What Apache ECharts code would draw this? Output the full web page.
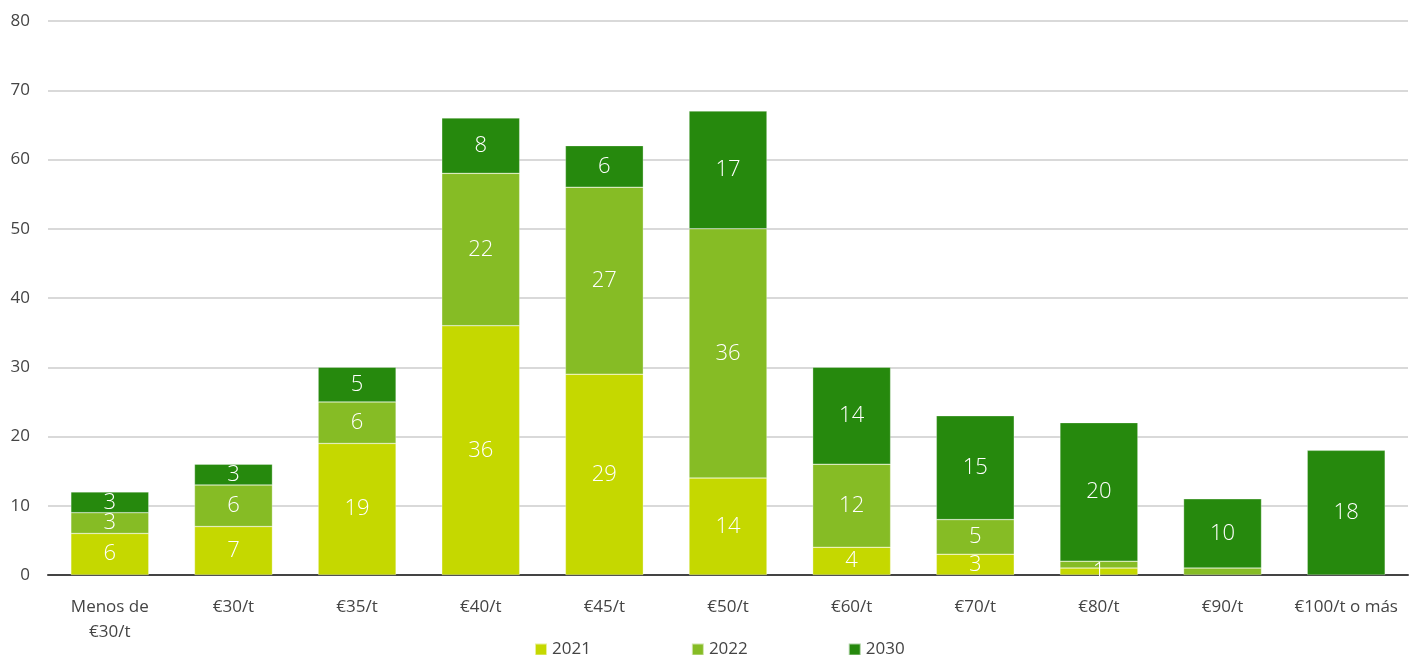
<!DOCTYPE html>
<html><head><meta charset="utf-8">
<script src="https://cdn.jsdelivr.net/npm/echarts@6/dist/echarts.min.js"></script>
<style>html,body{margin:0;padding:0;background:#fff}#c{width:1418px;height:655px}</style>
</head><body><div id="c"></div>
<script>
const categories = ['Menos de\n€30/t','€30/t','€35/t','€40/t','€45/t','€50/t','€60/t','€70/t','€80/t','€90/t','€100/t o más'];
const s2021 = [6,7,19,36,29,14,4,3,1,0,0];
const s2022 = [3,6,6,22,27,36,12,5,1,1,0];
const s2030 = [3,3,5,8,6,17,14,15,20,10,18];
const hideLabel2022 = [8,9];
const yTicks = {min:0,max:80,interval:10};

function mk(name, vals, color, hide){
  return {
    name, type:'bar', stack:'t', barWidth:'63%',
    itemStyle:{color, borderColor:'rgba(255,255,255,0.6)', borderWidth:0.5},
    label:{show:true, position:'inside', color:'#fff', fontSize:22, fontWeight:300, fontFamily:'Open Sans',
      formatter:p=> (p.value>0 && !(hide||[]).includes(p.dataIndex)) ? p.value : ''},
    data: vals.map(v => v === 0 ? '-' : v)
  };
}
const chart = echarts.init(document.getElementById('c'));
chart.setOption({
  animation:false,
  textStyle:{fontFamily:'Open Sans'},
  grid:{left:48,right:10,top:21,bottom:80,containLabel:false},
  legend:{top:636,left:529,itemGap:100,itemWidth:12,itemHeight:12,icon:'rect',
    textStyle:{fontSize:17,color:'#444',fontFamily:'Open Sans'},data:['2021','2022','2030']},
  xAxis:{type:'category',data:categories,
    axisLine:{lineStyle:{color:'#444',width:2}},axisTick:{show:false},
    axisLabel:{fontSize:17,color:'#444',margin:20,lineHeight:25,interval:0}},
  yAxis:{type:'value',min:yTicks.min,max:yTicks.max,interval:yTicks.interval,
    axisLine:{show:false},axisTick:{show:false},
    splitLine:{lineStyle:{color:'#d9d9d9',width:2}},
    axisLabel:{fontSize:17,color:'#444',margin:18,align:'right'}},
  series:[mk('2021',s2021,'#c5d800'),mk('2022',s2022,'#86bc25',hideLabel2022),mk('2030',s2030,'#26890d')]
});
</script></body></html>
